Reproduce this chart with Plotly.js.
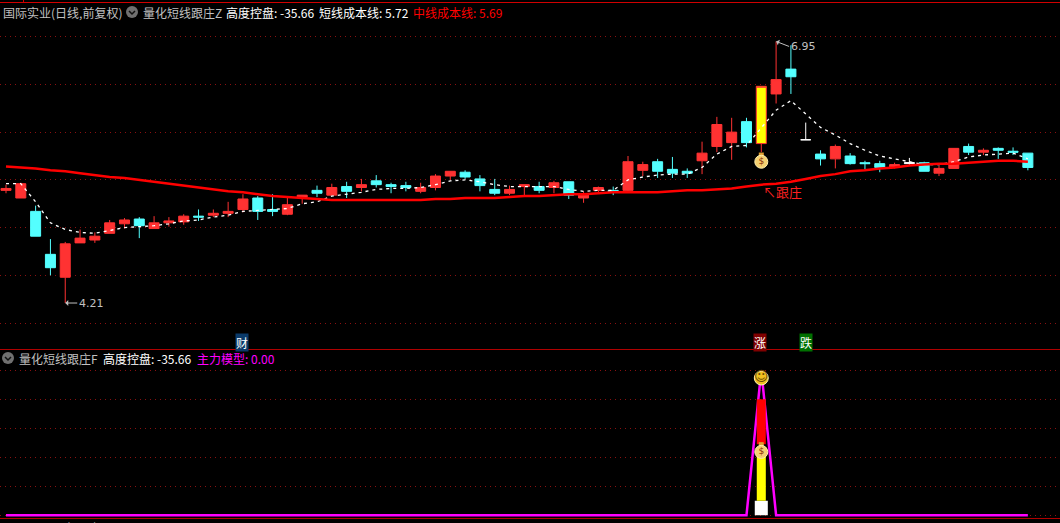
<!DOCTYPE html>
<html>
<head>
<meta charset="utf-8">
<script src="https://cdn.plot.ly/plotly-3.0.1.min.js"></script>
<style>
html, body { margin: 0; padding: 0; background: #000; overflow: hidden; }
#chart { width: 1060px; height: 523px; }
</style>
</head>
<body>
<div id="chart"></div>
<script>
// --- daily bars ---
const opens = [5.39,5.31,5.17,4.72,4.48,4.84,4.87,4.94,5.04,5.09,4.99,5.05,5.06,5.12,5.13,5.15,5.19,5.31,5.19,5.14,5.32,5.39,5.34,5.43,5.42,5.49,5.45,5.44,5.38,5.42,5.54,5.58,5.51,5.40,5.36,5.43,5.43,5.42,5.48,5.31,5.39,5.39,5.39,5.60,5.69,5.61,5.59,5.70,5.85,5.89,6.11,5.88,6.40,6.66,5.92,5.77,5.72,5.75,5.68,5.67,5.63,5.67,5.68,5.57,5.62,5.85,5.79,5.83,5.80,5.78];
const highs = [5.45,5.47,5.23,4.88,4.85,4.98,4.95,5.08,5.10,5.11,5.12,5.11,5.14,5.19,5.19,5.27,5.35,5.33,5.35,5.31,5.34,5.44,5.46,5.48,5.51,5.55,5.47,5.48,5.47,5.56,5.59,5.60,5.55,5.51,5.44,5.45,5.48,5.49,5.48,5.38,5.43,5.43,5.75,5.69,5.72,5.74,5.62,5.90,6.16,6.15,6.15,6.48,6.95,6.91,6.10,5.81,5.87,5.78,5.70,5.70,5.68,5.73,5.69,5.65,5.83,5.88,5.83,5.84,5.84,5.78];
const lows = [5.36,5.31,4.91,4.50,4.21,4.84,4.84,4.94,4.99,4.89,4.99,5.01,5.03,5.07,5.11,5.11,5.16,5.08,5.12,5.13,5.25,5.32,5.34,5.31,5.38,5.42,5.36,5.38,5.36,5.39,5.50,5.51,5.38,5.34,5.34,5.34,5.36,5.36,5.30,5.26,5.36,5.34,5.37,5.54,5.52,5.52,5.52,5.56,5.79,5.71,5.84,5.79,6.30,6.40,5.92,5.65,5.62,5.66,5.61,5.58,5.62,5.65,5.59,5.54,5.62,5.76,5.76,5.72,5.76,5.60];
const closes = [5.41,5.46,4.91,4.58,4.83,4.89,4.91,5.05,5.08,5.02,5.05,5.07,5.12,5.11,5.15,5.17,5.30,5.17,5.17,5.24,5.34,5.36,5.42,5.38,5.45,5.45,5.43,5.42,5.42,5.54,5.59,5.53,5.44,5.36,5.40,5.45,5.39,5.47,5.34,5.34,5.42,5.37,5.69,5.66,5.59,5.57,5.57,5.78,6.08,6.00,5.89,6.48,6.55,6.58,5.92,5.72,5.85,5.67,5.67,5.63,5.66,5.68,5.59,5.62,5.83,5.79,5.81,5.81,5.79,5.63];

// short and mid term cost lines
const shortCost = [5.46,5.46,5.27,5.05,4.98,4.95,4.94,4.97,5.00,5.01,5.02,5.04,5.07,5.08,5.11,5.13,5.17,5.18,5.19,5.20,5.25,5.27,5.33,5.35,5.37,5.40,5.41,5.41,5.42,5.45,5.49,5.50,5.48,5.45,5.43,5.43,5.43,5.43,5.40,5.38,5.39,5.39,5.50,5.53,5.55,5.56,5.56,5.63,5.77,5.85,5.86,6.04,6.23,6.33,6.19,6.05,5.97,5.88,5.81,5.75,5.72,5.69,5.66,5.66,5.69,5.74,5.76,5.77,5.78,5.72];
const midCost = [5.64,5.63,5.62,5.60,5.59,5.57,5.55,5.53,5.52,5.50,5.48,5.46,5.44,5.42,5.40,5.38,5.37,5.35,5.33,5.32,5.31,5.30,5.29,5.29,5.29,5.29,5.29,5.29,5.29,5.30,5.30,5.31,5.31,5.31,5.32,5.33,5.33,5.34,5.35,5.35,5.36,5.37,5.37,5.37,5.37,5.38,5.39,5.39,5.40,5.41,5.43,5.45,5.46,5.48,5.51,5.54,5.56,5.59,5.60,5.62,5.63,5.65,5.66,5.67,5.67,5.68,5.69,5.70,5.70,5.69];

// special bars
const whiteDays = [54, 61];
const signalDay = 51;
const lowDay = 4, highDay = 52;

// lower panel
const modelDays = [0, 50, 51, 52, 69];
const modelValues = [0, 0, 100, 0, 0];
const whiteBar = { base: 0, top: 10 };
const yellowBar = { base: 10, top: 46 };
const redBar = { base: 49, top: 80 };
const smileValue = 94.7;
const bagValue = 43.7;
const bagPrice = 5.69;
const followPrice = 5.38;

const dayIdx = opens.map((_, i) => i);

const RED = '#ff3232', CYAN = '#54ffff', GRID = '#8a1010', MAGENTA = '#ff00ff';
const W = 1060, H = 523;
const px = x => x / W;
const py = y => 1 - y / H;

function candleTrace(days, up, down, fill) {
    return {
        type: 'candlestick',
        x: days,
        open: days.map(i => opens[i]),
        high: days.map(i => highs[i]),
        low: days.map(i => lows[i]),
        close: days.map(i => closes[i]),
        increasing: { line: { color: up, width: 1 }, fillcolor: fill || up },
        decreasing: { line: { color: down, width: 1 }, fillcolor: fill || down },
        whiskerwidth: 0,
        xaxis: 'x', yaxis: 'y',
        showlegend: false
    };
}

function barTrace(range, color, width) {
    return {
        type: 'bar', x: [signalDay], y: [range.top - range.base], base: [range.base],
        width: [width], marker: { color: color, line: { width: 0 } },
        xaxis: 'x', yaxis: 'y2', showlegend: false
    };
}

function badge(x, y, yaxis, text, color, size, textColor, textSize) {
    return {
        type: 'scatter', mode: 'markers+text', x: [x], y: [y], yaxis: yaxis, xaxis: 'x',
        marker: { color: color, size: size, line: { width: 1, color: '#fff0b0' } },
        text: [text], textposition: 'middle center',
        textfont: { family: 'DejaVu Sans', size: textSize, color: textColor },
        showlegend: false
    };
}

// little knot on top of a money bag
function knot(x, y, yaxis) {
    return {
        type: 'scatter', mode: 'markers', x: [x], y: [y], yaxis: yaxis, xaxis: 'x',
        marker: { symbol: 'square', color: '#e0a030', size: 5, line: { width: 0 } },
        showlegend: false
    };
}

const normalDays = dayIdx.filter(i => !whiteDays.includes(i) && i !== signalDay);

const traces = [
    candleTrace(normalDays, RED, CYAN),
    candleTrace(whiteDays, '#ffffff', '#ffffff'),
    candleTrace([signalDay], RED, RED, '#ffff00'),
    { type: 'scatter', mode: 'lines', x: dayIdx, y: shortCost, xaxis: 'x', yaxis: 'y',
      line: { color: '#ffffff', width: 1.3, dash: '3px,4px' }, showlegend: false },
    { type: 'scatter', mode: 'lines', x: dayIdx, y: midCost, xaxis: 'x', yaxis: 'y',
      line: { color: '#ff0000', width: 2.5 }, showlegend: false },
    knot(signalDay, bagPrice + 0.07, 'y'),
    badge(signalDay, bagPrice, 'y', '$', '#f5d070', 13, '#8a2a00', 9),
    barTrace(whiteBar, '#ffffff', 0.88),
    barTrace(yellowBar, '#ffff00', 0.61),
    { type: 'scatter', mode: 'lines', x: modelDays, y: modelValues, xaxis: 'x', yaxis: 'y2',
      line: { color: MAGENTA, width: 2.5 }, showlegend: false },
    { type: 'scatter', mode: 'lines', x: [signalDay, signalDay], y: [redBar.base, redBar.top], xaxis: 'x', yaxis: 'y2',
      line: { color: '#ff0000', width: 9 }, showlegend: false },
    knot(signalDay, bagValue + 5, 'y2'),
    badge(signalDay, bagValue, 'y2', '$', '#f5d070', 13, '#8a2a00', 9),
    badge(signalDay, smileValue, 'y2', '\u263A', '#f0c020', 14, '#6a4a00', 14)
];

// header text, placed by pixel from the left edge
function label(x, y, text, color) {
    return {
        xref: 'paper', yref: 'paper', x: px(x), y: py(y), text: text, showarrow: false,
        xanchor: 'left', yanchor: 'middle', borderpad: 0,
        font: { family: 'Noto Sans CJK SC', size: 12, color: color }
    };
}

function tag(x, y, text, bg) {
    return {
        xref: 'paper', yref: 'paper', x: px(x), y: py(y), text: text, showarrow: false,
        xanchor: 'center', yanchor: 'middle', bgcolor: bg, borderpad: 0,
        font: { family: 'Noto Sans CJK SC', size: 12, color: '#ffffff' }
    };
}

const annotations = [
    label(2, 12, '国际实业(日线,前复权)', '#c0c0c0'),
    label(142, 12, '量化短线跟庄Z', '#c0c0c0'),
    label(225, 12, '高度控盘: -35.66', '#ffffff'),
    label(318, 12, '短线成本线: 5.72', '#ffffff'),
    label(412, 12, '中线成本线: 5.69', '#ff0000'),
    label(18, 358, '量化短线跟庄F', '#c0c0c0'),
    label(102, 358, '高度控盘: -35.66', '#ffffff'),
    label(196, 358, '主力模型: 0.00', MAGENTA),
    // this row is cut by the window bottom, same as the reference
    label(18, 526, 'VOL-TDX(5,10)', '#c0c0c0'),
    label(105, 526, 'VOL: 138513', '#ffffff'),
    label(188, 526, 'MAVOL1: 88803', '#ffff00'),
    label(280, 526, 'MA2: 150387', '#ffff00'),
    label(360, 526, 'MAVOL3: 176124', MAGENTA),
    tag(242, 342, '财', '#0a3a6a'),
    tag(760, 342, '涨', '#800000'),
    tag(806, 342, '跌', '#007000'),
    {
        x: highDay, y: highs[highDay], xref: 'x', yref: 'y', text: highs[highDay].toFixed(2),
        showarrow: true, arrowhead: 1, arrowsize: 1, arrowwidth: 1, arrowcolor: '#c0c0c0',
        ax: 13, ay: 5, xanchor: 'left', yanchor: 'middle', standoff: 0, startstandoff: 0,
        font: { family: 'DejaVu Sans', size: 11, color: '#c0c0c0' }
    },
    {
        x: lowDay, y: lows[lowDay], xref: 'x', yref: 'y', text: lows[lowDay].toFixed(2),
        showarrow: true, arrowhead: 1, arrowsize: 1, arrowwidth: 1, arrowcolor: '#c0c0c0',
        ax: 12, ay: 0, xanchor: 'left', yanchor: 'middle', standoff: 0, startstandoff: 0,
        font: { family: 'DejaVu Sans', size: 11, color: '#c0c0c0' }
    },
    {
        x: highDay, y: followPrice, xref: 'x', yref: 'y', text: '↖跟庄', showarrow: false,
        xanchor: 'center', yanchor: 'middle', xshift: 6,
        font: { family: 'Noto Sans CJK SC', size: 13, color: '#ff2020' }
    }
];

// panel borders and the round indicator buttons
function hline(y, color) {
    return { type: 'line', xref: 'paper', yref: 'paper', x0: 0, x1: 1, y0: py(y), y1: py(y),
             line: { color: color, width: 1 } };
}
function button(cx, cy) {
    return [
        { type: 'circle', xref: 'paper', yref: 'paper', x0: px(cx - 6), x1: px(cx + 6), y0: py(cy - 6), y1: py(cy + 6),
          fillcolor: '#707070', line: { width: 0 } },
        { type: 'path', xref: 'paper', yref: 'paper',
          path: `M ${px(cx - 3)} ${py(cy - 1)} L ${px(cx)} ${py(cy + 2)} L ${px(cx + 3)} ${py(cy - 1)}`,
          line: { color: '#101010', width: 1.5 } }
    ];
}
const shapes = [
    hline(2.5, '#d00000'),
    hline(349.5, '#b00000'),
    hline(518.5, '#b00000'),
    { type: 'line', xref: 'paper', yref: 'paper', x0: px(23.5), x1: px(23.5), y0: py(0), y1: py(2), line: { color: '#d00000', width: 1 } },
    ...button(132, 12),
    ...button(8, 358),
    ...button(8, 529)
];

const gridStyle = { gridcolor: GRID, griddash: '1px,4px', gridwidth: 1 };

const layout = {
    width: W,
    height: H,
    margin: { t: 0, r: 0, b: 0, l: 0 },
    paper_bgcolor: '#000000',
    plot_bgcolor: '#000000',
    showlegend: false,
    boxgap: 0.325,
    boxgroupgap: 0,
    barmode: 'overlay',
    xaxis: { type: 'linear', range: [-0.405, 71.17], showgrid: false, zeroline: false, showticklabels: false, ticks: '', rangeslider: { visible: false } },
    yaxis: { domain: [py(348), 1], range: [3.739, 7.384], dtick: 0.5, tick0: 0, showticklabels: false, ticks: '', zeroline: false, ...gridStyle },
    yaxis2: { domain: [py(518), py(350)], range: [-1.9, 114], dtick: 20, tick0: 0, showticklabels: false, ticks: '', zeroline: false, ...gridStyle },
    annotations: annotations,
    shapes: shapes
};

Plotly.newPlot('chart', traces, layout, { displayModeBar: false, staticPlot: true });
</script>
</body>
</html>
